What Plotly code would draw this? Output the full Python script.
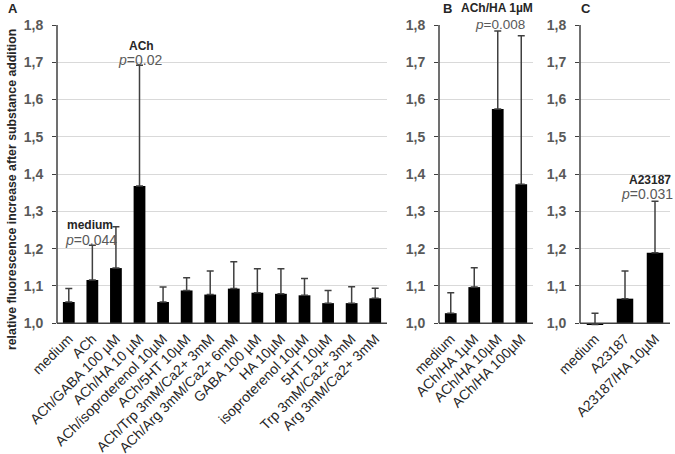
import plotly.graph_objects as go

# ---------------- data ----------------
cats_a = ["medium", "ACh", "ACh/GABA 100 µM", "ACh/HA 10 µM", "ACh/isoproterenol 10µM",
          "ACh/5HT 10µM", "ACh/Trp 3mM/Ca2+ 3mM", "ACh/Arg 3mM/Ca2+ 6mM", "GABA 100 µM",
          "HA 10µM", "isoproterenol 10µM", "5HT 10µM", "Trp 3mM/Ca2+ 3mM", "Arg 3mM/Ca2+ 3mM"]
mean_a = [1.057, 1.116, 1.148, 1.368, 1.057, 1.088, 1.077, 1.093, 1.082, 1.079, 1.075, 1.054, 1.054, 1.067]
sd_a = [0.036, 0.093, 0.111, 0.324, 0.040, 0.034, 0.063, 0.072, 0.064, 0.067, 0.045, 0.034, 0.044, 0.027]

cats_b = ["medium", "ACh/HA 1µM", "ACh/HA 10µM", "ACh/HA 100µM"]
mean_b = [1.027, 1.097, 1.575, 1.373]
sd_b = [0.055, 0.052, 0.209, 0.398]

cats_c = ["medium", "A23187", "A23187/HA 10µM"]
mean_c = [0.997, 1.066, 1.189]
sd_c = [0.030, 0.074, 0.138]

BASE = 1.0
y_ticks = [1.0, 1.1, 1.2, 1.3, 1.4, 1.5, 1.6, 1.7, 1.8]

FONT = "Arial, Liberation Sans, sans-serif"
GREY = "#595959"
AXIS = "#404040"
ERR = "#404040"
DARK = "#262626"

fig = go.Figure()

panels = [
    (cats_a, mean_a, sd_a, "x", "y", 0.5),
    (cats_b, mean_b, sd_b, "x2", "y2", 0.5),
    (cats_c, mean_c, sd_c, "x3", "y3", 0.55),
]
for cats, means, sds, xa, ya, w in panels:
    fig.add_trace(go.Bar(
        x=cats, y=[m - BASE for m in means], base=BASE,
        width=w, marker=dict(color="black", line=dict(width=0)),
        error_y=dict(type="data", symmetric=False, array=sds, arrayminus=[0] * len(sds),
                     color=ERR, thickness=1.5, width=3.5),
        xaxis=xa, yaxis=ya, showlegend=False,
    ))

# margins / domains (pixels -> fractions)
ML, MR, MT, MB = 57, 5, 25, 127
PW = 675 - ML - MR
PH = 454 - MT - MB
def dom(x0, x1):
    return [(x0 - ML) / PW, (x1 - ML) / PW]
def px(xp):
    return (xp - ML) / PW
def py(yp):
    return (454 - MB - yp) / PH

yr = [0.99, 1.8]
xcommon = dict(tickangle=-45, tickfont=dict(family=FONT, size=14, color=DARK),
               showgrid=False, showline=False, ticks="", zeroline=False, automargin=False)
ycommon = dict(range=yr, tickvals=y_ticks, tickformat=".1f",
               tickfont=dict(family=FONT, size=14, color=GREY, weight="bold"),
               showgrid=True, gridcolor="#d9d9d9", gridwidth=1,
               showline=False, ticks="outside", ticklen=4, tickcolor=AXIS,
               zeroline=False, ticklabelstandoff=6, automargin=False)

fig.update_layout(
    width=675, height=454,
    margin=dict(l=ML, r=MR, t=MT, b=MB, autoexpand=False),
    plot_bgcolor="white", paper_bgcolor="white",
    separators=", ",
    font=dict(family=FONT),
    xaxis=dict(domain=dom(57, 387), anchor="y", **xcommon),
    yaxis=dict(domain=[0, 1], anchor="x", **ycommon),
    xaxis2=dict(domain=dom(439, 533), anchor="y2", **xcommon),
    yaxis2=dict(domain=[0, 1], anchor="x2", **ycommon),
    xaxis3=dict(domain=dom(580, 670), anchor="y3", **xcommon),
    yaxis3=dict(domain=[0, 1], anchor="x3", **ycommon),
)

# axis lines drawn from 1.0 to 1.8
for xa, ya in [("x", "y"), ("x2", "y2"), ("x3", "y3")]:
    fig.add_shape(type="line", xref=f"{xa} domain", yref=ya, x0=0, x1=1, y0=1.0, y1=1.0,
                  line=dict(color=AXIS, width=1.5), layer="above")
    fig.add_shape(type="line", xref=f"{xa} domain", yref=ya, x0=0, x1=0, y0=1.0, y1=1.8,
                  line=dict(color=AXIS, width=1.5), layer="above")

def ann(text, xp, yp, size, color, bold=False):
    fig.add_annotation(text=f"<b>{text}</b>" if bold else text, x=px(xp), y=py(yp),
                       xref="paper", yref="paper",
                       showarrow=False, xanchor="center", yanchor="middle",
                       font=dict(family=FONT, size=size, color=color))

# significance annotations (pixel positions)
ann("ACh", 141, 46, 12, DARK, bold=True)
ann("<i>p</i>=0.02", 140, 60, 14, GREY)
ann("medium", 90, 225, 12, DARK, bold=True)
ann("<i>p</i>=0.044", 91, 240, 14, GREY)
ann("ACh/HA 1µM", 497, 8, 12, DARK, bold=True)
ann("<i>p</i>=0.008", 500, 24, 13.5, GREY)
ann("A23187", 650, 180, 12, DARK, bold=True)
ann("<i>p</i>=0.031", 647, 194, 14, GREY)

# panel letters
ann("A", 13, 8, 13, DARK, bold=True)
ann("B", 447, 8, 13, DARK, bold=True)
ann("C", 586, 8, 13, DARK, bold=True)

# y axis title
fig.add_annotation(text="<b>relative fluorescence increase after substance addition</b>",
                   x=px(12), y=py(190), xref="paper", yref="paper", showarrow=False,
                   textangle=-90, xanchor="center", yanchor="middle",
                   font=dict(family=FONT, size=12.3, color=DARK))

fig.write_html("out.html", config={"displayModeBar": False},
               post_script="document.body.style.margin='0';")
